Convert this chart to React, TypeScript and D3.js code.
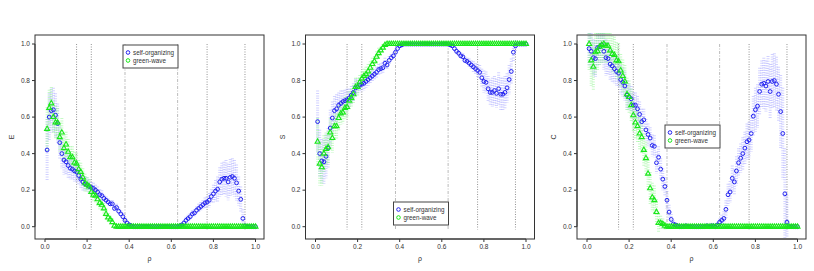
import * as d3 from "d3";

// rho grid 0.01 .. 1.00
const rho = d3.range(1, 101).map((i) => i / 100);

const eSelf = [
  0.42, 0.6, 0.635, 0.64, 0.61, 0.565, 0.46, 0.4, 0.365, 0.355,
  0.335, 0.32, 0.315, 0.305, 0.3, 0.28, 0.26, 0.245, 0.235, 0.23,
  0.22, 0.215, 0.21, 0.2, 0.19, 0.175, 0.17, 0.155, 0.145, 0.135,
  0.125, 0.125, 0.1, 0.105, 0.085, 0.07, 0.055, 0.035, 0.02, 0.01,
  0.005, 0, 0, 0, 0, 0, 0, 0, 0, 0,
  0, 0, 0, 0, 0, 0, 0, 0, 0, 0,
  0, 0, 0, 0.005, 0.01, 0.02, 0.035, 0.045, 0.055, 0.07,
  0.075, 0.09, 0.1, 0.11, 0.12, 0.13, 0.135, 0.145, 0.165, 0.18,
  0.195, 0.205, 0.245, 0.26, 0.265, 0.265, 0.245, 0.27, 0.275, 0.265,
  0.24, 0.195, 0.15, 0.045, 0.005, 0, 0, 0, 0, 0,
];
const eSelfErr = [
  0.17, 0.13, 0.12, 0.12, 0.12, 0.11, 0.09, 0.08, 0.08, 0.07,
  0.07, 0.06, 0.06, 0.06, 0.06, 0.05, 0.05, 0.05, 0.04, 0.04,
  0.04, 0.03, 0.03, 0.03, 0.03, 0.03, 0.03, 0.02, 0.02, 0.02,
  0.02, 0.02, 0.02, 0.02, 0.02, 0.02, 0.02, 0.015, 0.01, 0.01,
  0.005, 0, 0, 0, 0, 0, 0, 0, 0, 0,
  0, 0, 0, 0, 0, 0, 0, 0, 0, 0,
  0, 0, 0, 0.005, 0.01, 0.015, 0.02, 0.02, 0.02, 0.02,
  0.02, 0.02, 0.025, 0.025, 0.025, 0.03, 0.03, 0.04, 0.04, 0.05,
  0.06, 0.07, 0.08, 0.09, 0.09, 0.1, 0.1, 0.1, 0.1, 0.1,
  0.1, 0.08, 0.07, 0.05, 0.01, 0, 0, 0, 0, 0,
];
const eGreen = [
  0.535, 0.65, 0.675, 0.6, 0.57, 0.57, 0.49, 0.515, 0.43, 0.45,
  0.41, 0.38, 0.38, 0.35, 0.345, 0.315, 0.3, 0.27, 0.24, 0.23,
  0.22, 0.19, 0.175, 0.17, 0.15, 0.13, 0.12, 0.1, 0.07, 0.05,
  0.04, 0.025, 0.005, 0, 0, 0, 0, 0, 0, 0,
  0, 0, 0, 0, 0, 0, 0, 0, 0, 0,
  0, 0, 0, 0, 0, 0, 0, 0, 0, 0,
  0, 0, 0, 0, 0, 0, 0, 0, 0, 0,
  0, 0, 0, 0, 0, 0, 0, 0, 0, 0,
  0, 0, 0, 0, 0, 0, 0, 0, 0, 0,
  0, 0, 0, 0, 0, 0, 0, 0, 0, 0,
];
const eGreenErr = [
  0.12, 0.1, 0.09, 0.09, 0.09, 0.08, 0.08, 0.08, 0.07, 0.07,
  0.07, 0.06, 0.06, 0.06, 0.06, 0.05, 0.05, 0.05, 0.05, 0.04,
  0.04, 0.04, 0.04, 0.04, 0.035, 0.035, 0.03, 0.03, 0.03, 0.025,
  0.02, 0.02, 0.01, 0, 0, 0, 0, 0, 0, 0,
  0, 0, 0, 0, 0, 0, 0, 0, 0, 0,
  0, 0, 0, 0, 0, 0, 0, 0, 0, 0,
  0, 0, 0, 0, 0, 0, 0, 0, 0, 0,
  0, 0, 0, 0, 0, 0, 0, 0, 0, 0,
  0, 0, 0, 0, 0, 0, 0, 0, 0, 0,
  0, 0, 0, 0, 0, 0, 0, 0, 0, 0,
];

const sSelf = [
  0.575, 0.4, 0.36, 0.355, 0.385, 0.43, 0.54, 0.595, 0.635, 0.645,
  0.665, 0.675, 0.685, 0.69, 0.695, 0.705, 0.72, 0.735, 0.76, 0.765,
  0.775, 0.78, 0.785, 0.795, 0.805, 0.815, 0.825, 0.835, 0.845, 0.86,
  0.865, 0.87, 0.895, 0.885, 0.91, 0.925, 0.935, 0.955, 0.975, 0.99,
  0.995, 1, 1, 1, 1, 1, 1, 1, 1, 1,
  1, 1, 1, 1, 1, 1, 1, 1, 1, 1,
  1, 1, 1, 0.995, 0.99, 0.975, 0.96, 0.95, 0.935, 0.93,
  0.91, 0.905, 0.895, 0.885, 0.875, 0.865, 0.855, 0.845, 0.815, 0.795,
  0.79, 0.755, 0.735, 0.735, 0.745, 0.73, 0.755, 0.725, 0.725, 0.735,
  0.76, 0.805, 0.85, 0.955, 0.99, 1, 1, 1, 1, 1,
];
const sSelfErr = [
  0.17, 0.13, 0.12, 0.12, 0.12, 0.11, 0.1, 0.09, 0.08, 0.08,
  0.07, 0.07, 0.06, 0.06, 0.06, 0.05, 0.05, 0.05, 0.05, 0.04,
  0.04, 0.04, 0.04, 0.035, 0.035, 0.03, 0.03, 0.03, 0.03, 0.03,
  0.03, 0.03, 0.03, 0.025, 0.025, 0.02, 0.02, 0.02, 0.015, 0.01,
  0.005, 0, 0, 0, 0, 0, 0, 0, 0, 0,
  0, 0, 0, 0, 0, 0, 0, 0, 0, 0,
  0, 0, 0, 0.005, 0.01, 0.01, 0.015, 0.015, 0.02, 0.02,
  0.02, 0.02, 0.025, 0.025, 0.03, 0.03, 0.035, 0.04, 0.05, 0.06,
  0.06, 0.07, 0.07, 0.08, 0.08, 0.08, 0.09, 0.09, 0.09, 0.09,
  0.08, 0.08, 0.07, 0.05, 0.03, 0, 0, 0, 0, 0,
];
const sGreen = [
  0.465, 0.345, 0.325, 0.4, 0.425, 0.435, 0.515, 0.485, 0.55, 0.55,
  0.595, 0.62, 0.625, 0.65, 0.655, 0.69, 0.705, 0.725, 0.765, 0.765,
  0.79, 0.81, 0.825, 0.835, 0.85, 0.87, 0.89, 0.905, 0.93, 0.95,
  0.965, 0.98, 0.995, 1, 1, 1, 1, 1, 1, 1,
  1, 1, 1, 1, 1, 1, 1, 1, 1, 1,
  1, 1, 1, 1, 1, 1, 1, 1, 1, 1,
  1, 1, 1, 1, 1, 1, 1, 1, 1, 1,
  1, 1, 1, 1, 1, 1, 1, 1, 1, 1,
  1, 1, 1, 1, 1, 1, 1, 1, 1, 1,
  1, 1, 1, 1, 1, 1, 1, 1, 1, 1,
];
const sGreenErr = [
  0.13, 0.12, 0.1, 0.1, 0.09, 0.09, 0.08, 0.08, 0.07, 0.07,
  0.07, 0.06, 0.06, 0.06, 0.06, 0.05, 0.05, 0.05, 0.05, 0.05,
  0.04, 0.04, 0.04, 0.04, 0.04, 0.035, 0.035, 0.03, 0.03, 0.03,
  0.02, 0.02, 0.01, 0, 0, 0, 0, 0, 0, 0,
  0, 0, 0, 0, 0, 0, 0, 0, 0, 0,
  0, 0, 0, 0, 0, 0, 0, 0, 0, 0,
  0, 0, 0, 0, 0, 0, 0, 0, 0, 0,
  0, 0, 0, 0, 0, 0, 0, 0, 0, 0,
  0, 0, 0, 0, 0, 0, 0, 0, 0, 0,
  0, 0, 0, 0, 0, 0, 0, 0, 0, 0,
];

const cSelf = [
  0.975, 0.96, 0.925, 0.92, 0.98, 0.985, 0.995, 0.96, 0.925, 0.92,
  0.89, 0.88, 0.865, 0.85, 0.84, 0.805, 0.79, 0.77, 0.72, 0.71,
  0.7, 0.665, 0.665, 0.645, 0.615, 0.575, 0.585, 0.53, 0.505, 0.485,
  0.445, 0.44, 0.35, 0.38, 0.315, 0.26, 0.22, 0.145, 0.08, 0.04,
  0.015, 0.01, 0.005, 0, 0, 0, 0.005, 0, 0, 0,
  0, 0, 0, 0, 0, 0, 0.005, 0, 0.005, 0.005,
  0, 0.01, 0.025, 0.035, 0.045, 0.095, 0.175, 0.19, 0.265, 0.245,
  0.305, 0.35, 0.375, 0.4, 0.43, 0.465, 0.475, 0.51, 0.605, 0.64,
  0.66, 0.74, 0.78, 0.785, 0.77, 0.795, 0.74, 0.795, 0.8, 0.78,
  0.725, 0.63, 0.51, 0.18, 0.025, 0, 0, 0, 0, 0,
];
const cSelfErr = [
  0.1, 0.1, 0.1, 0.1, 0.1, 0.1, 0.1, 0.1, 0.1, 0.09,
  0.09, 0.09, 0.08, 0.08, 0.08, 0.08, 0.08, 0.08, 0.08, 0.07,
  0.07, 0.07, 0.07, 0.07, 0.07, 0.07, 0.06, 0.06, 0.06, 0.06,
  0.06, 0.06, 0.06, 0.06, 0.06, 0.06, 0.05, 0.05, 0.04, 0.03,
  0.02, 0.01, 0.005, 0, 0, 0, 0.005, 0, 0, 0,
  0, 0, 0, 0, 0, 0, 0.005, 0, 0.005, 0.005,
  0, 0.01, 0.02, 0.03, 0.04, 0.05, 0.06, 0.06, 0.07, 0.07,
  0.08, 0.08, 0.08, 0.09, 0.09, 0.1, 0.1, 0.1, 0.11, 0.12,
  0.12, 0.13, 0.13, 0.14, 0.14, 0.14, 0.15, 0.15, 0.15, 0.15,
  0.15, 0.2, 0.25, 0.25, 0.15, 0, 0, 0, 0, 0,
];
const cGreen = [
  1.0, 0.91, 0.875, 0.955, 0.96, 0.985, 0.995, 1.0, 0.99, 0.99,
  0.965, 0.945, 0.94, 0.91, 0.905, 0.855, 0.825, 0.795, 0.725, 0.71,
  0.665, 0.61, 0.57, 0.55, 0.51, 0.49, 0.42, 0.375, 0.29, 0.21,
  0.16, 0.145, 0.08, 0.02, 0.02, 0.015, 0.005, 0, 0, 0,
  0, 0, 0, 0, 0, 0, 0, 0, 0, 0,
  0, 0, 0, 0, 0, 0, 0, 0, 0, 0,
  0, 0, 0, 0, 0, 0, 0, 0, 0, 0,
  0, 0, 0, 0, 0, 0, 0, 0, 0, 0,
  0, 0, 0, 0, 0, 0, 0, 0, 0, 0,
  0, 0, 0, 0, 0, 0, 0, 0, 0, 0,
];
const cGreenErr = [
  0.15, 0.14, 0.13, 0.12, 0.11, 0.1, 0.1, 0.1, 0.1, 0.1,
  0.1, 0.1, 0.1, 0.1, 0.1, 0.09, 0.09, 0.09, 0.09, 0.09,
  0.09, 0.09, 0.09, 0.09, 0.09, 0.09, 0.09, 0.09, 0.09, 0.09,
  0.08, 0.08, 0.07, 0.05, 0.04, 0.03, 0.02, 0, 0, 0,
  0, 0, 0, 0, 0, 0, 0, 0, 0, 0,
  0, 0, 0, 0, 0, 0, 0, 0, 0, 0,
  0, 0, 0, 0, 0, 0, 0, 0, 0, 0,
  0, 0, 0, 0, 0, 0, 0, 0, 0, 0,
  0, 0, 0, 0, 0, 0, 0, 0, 0, 0,
  0, 0, 0, 0, 0, 0, 0, 0, 0, 0,
];

const ticks = [0, 0.2, 0.4, 0.6, 0.8, 1.0];
const dottedLines = [0.15, 0.22, 0.77, 0.95];
const dashDotLines = [0.38, 0.63];
const legendLabels = ["self-organizing", "green-wave"];

const panels = [
  { ylab: "E", self: eSelf, selfErr: eSelfErr, green: eGreen, greenErr: eGreenErr, off: 0, legendY: 45 },
  { ylab: "S", self: sSelf, selfErr: sSelfErr, green: sGreen, greenErr: sGreenErr, off: 270.5, legendY: 202 },
  { ylab: "C", self: cSelf, selfErr: cSelfErr, green: cGreen, greenErr: cGreenErr, off: 542, legendY: 125 },
];

const FONT = "Liberation Sans, Arial, sans-serif";
const BLUE = "#2323f0";
const GREEN = "#18e818";

const x = d3.scaleLinear().domain([0, 1]).range([45, 255.5]);
const y = d3.scaleLinear().domain([0, 1]).range([226.7, 44]);
const box = { left: 35, right: 264, top: 35, bottom: 239 };
const tri = d3.symbol(d3.symbolTriangle, 11)();

function Panel({ p }: { p: (typeof panels)[number] }) {
  const clip = (v: number) => Math.max(-0.06, Math.min(1.06, v));
  return (
    <g transform={`translate(${p.off},0)`}>
      {/* reference lines */}
      {dottedLines.map((v) => (
        <line key={"d" + v} x1={x(v)} x2={x(v)} y1={y(1.0)} y2={y(-0.015)}
          stroke="#777" strokeWidth={0.8} strokeDasharray="1 1.5" />
      ))}
      {dashDotLines.map((v) => (
        <line key={"dd" + v} x1={x(v)} x2={x(v)} y1={y(1.0)} y2={y(-0.015)}
          stroke="#aaa" strokeWidth={0.8} strokeDasharray="3 1.5 1 1.5" />
      ))}

      {/* error bars */}
      {rho.map((r, i) => p.selfErr[i] > 0 ? (
        <line key={"se" + i} x1={x(r)} x2={x(r)}
          y1={y(clip(p.self[i] + p.selfErr[i]))} y2={y(clip(p.self[i] - p.selfErr[i]))}
          stroke="#9a9aff" strokeOpacity={0.45} strokeWidth={3} strokeDasharray="1 1.4" />
      ) : null)}
      {rho.map((r, i) => p.greenErr[i] > 0 ? (
        <line key={"ge" + i} x1={x(r)} x2={x(r)}
          y1={y(clip(p.green[i] + p.greenErr[i]))} y2={y(clip(p.green[i] - p.greenErr[i]))}
          stroke="#8cf58c" strokeOpacity={0.5} strokeWidth={3} strokeDasharray="1 1.4" />
      ) : null)}

      {/* points */}
      {rho.map((r, i) => (
        <circle key={"sp" + i} cx={x(r)} cy={y(p.self[i])} r={1.9}
          fill="none" stroke={BLUE} strokeWidth={1} />
      ))}
      {rho.map((r, i) => (
        <path key={"gp" + i} d={tri} transform={`translate(${x(r)},${y(p.green[i])})`}
          fill="none" stroke={GREEN} strokeWidth={1.1} />
      ))}

      {/* box and axes */}
      <rect x={box.left} y={box.top} width={box.right - box.left} height={box.bottom - box.top}
        fill="none" stroke="#333" strokeWidth={1} />
      <line x1={box.left} x2={box.left} y1={y(0)} y2={y(1)} stroke="#333" />
      {ticks.map((t) => (
        <g key={"yt" + t}>
          <line x1={box.left - 3} x2={box.left} y1={y(t)} y2={y(t)} stroke="#333" />
          <text x={30} y={y(t) + 2.3} textAnchor="end" fontSize={6.5} fontFamily={FONT} fill="#333">
            {t.toFixed(1)}
          </text>
        </g>
      ))}
      <line x1={x(0)} x2={x(1)} y1={box.bottom} y2={box.bottom} stroke="#333" />
      {ticks.map((t) => (
        <g key={"xt" + t}>
          <line x1={x(t)} x2={x(t)} y1={box.bottom} y2={box.bottom + 3} stroke="#333" />
          <text x={x(t)} y={box.bottom + 9.5} textAnchor="middle" fontSize={6.5} fontFamily={FONT} fill="#333">
            {t.toFixed(1)}
          </text>
        </g>
      ))}
      <text x={(box.left + box.right) / 2} y={261} textAnchor="middle" fontSize={7} fontFamily={FONT} fill="#333">
        ρ
      </text>
      <text transform={`translate(14,${(box.top + box.bottom) / 2}) rotate(-90)`} textAnchor="middle"
        fontSize={7} fontFamily={FONT} fill="#333">
        {p.ylab}
      </text>

      {/* legend */}
      <g transform={`translate(123,${p.legendY})`}>
        <rect x={0} y={0} width={55} height={23} fill="white" stroke="#444" strokeWidth={1} />
        {legendLabels.map((lab, i) => (
          <g key={lab}>
            <circle cx={5} cy={7.5 + i * 8} r={1.8} fill="none" stroke={i === 0 ? BLUE : GREEN} strokeWidth={1} />
            <text x={10} y={9.8 + i * 8} fontSize={6.3} fontFamily={FONT} fill="#333">{lab}</text>
          </g>
        ))}
      </g>
    </g>
  );
}

export default function App() {
  return (
    <svg width={814} height={271} style={{ position: "absolute", left: 0, top: 0, background: "white" }}>
      {panels.map((p) => (
        <Panel key={p.ylab} p={p} />
      ))}
    </svg>
  );
}
